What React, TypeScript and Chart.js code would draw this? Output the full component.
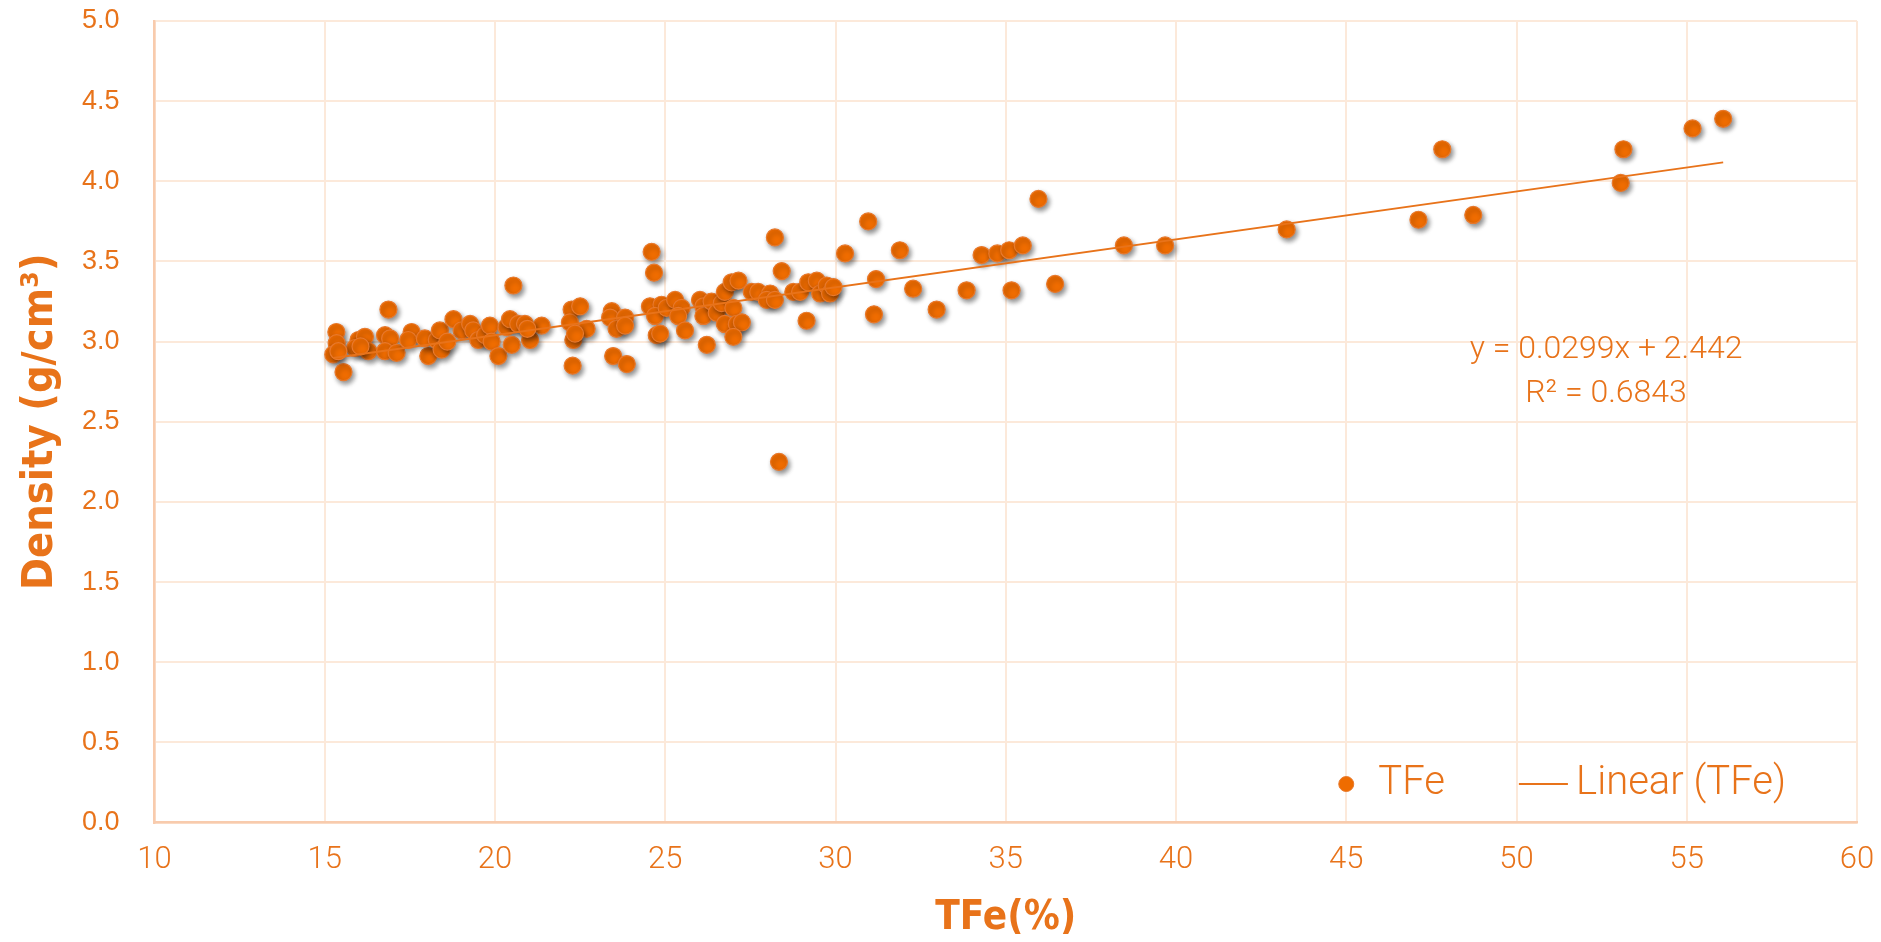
import React, { useEffect, useRef } from 'react';
import { Chart, registerables } from 'chart.js';

Chart.register(...registerables);

// ---- data ----
const seriesName = 'TFe';
const trendName = 'Linear (TFe)';

const tfe: number[] = [
  15.34, 15.35, 15.25, 15.55, 15.99, 16.18, 15.89, 16.28, 16.87, 16.77,
  16.92, 16.77, 17.11, 17.55, 17.45, 18.04, 17.94, 18.29, 18.38, 18.43,
  18.78, 19.02, 19.27, 19.36, 19.51, 19.71, 19.85, 19.90, 20.10, 20.34,
  20.44, 20.54, 20.49, 20.68, 20.88, 21.03, 21.37, 22.25, 22.20, 22.50,
  22.30, 22.28, 22.69, 23.43, 23.38, 23.57, 23.82, 23.82, 23.47, 23.87,
  24.60, 24.67, 24.55, 24.89, 24.70, 24.75, 24.85, 25.04, 25.29, 25.48,
  25.38, 25.58, 26.02, 26.12, 26.12, 26.36, 26.51, 26.66, 26.22, 26.75,
  26.95, 27.15, 27.00, 26.75, 27.10, 27.25, 27.00, 27.54, 27.73, 28.08,
  27.98, 28.22, 28.22, 28.42, 28.76, 28.96, 29.15, 29.20, 29.45, 29.55,
  29.74, 29.84, 29.94, 30.28, 30.96, 31.19, 31.13, 31.89, 32.28, 32.97,
  33.85, 34.29, 34.75, 35.10, 35.50, 35.96, 35.17, 36.45, 38.47, 39.68,
  43.25, 47.82, 47.12, 48.73, 53.14, 53.06, 55.17, 56.07, 28.34,
  15.40, 16.05, 22.35, 20.95, 18.60,
];
const density: number[] = [
  3.06, 2.99, 2.92, 2.81, 3.01, 3.03, 2.96, 2.94, 3.20, 3.04,
  3.02, 2.94, 2.93, 3.06, 3.01, 2.91, 3.02, 3.01, 3.07, 2.95,
  3.14, 3.07, 3.11, 3.07, 3.01, 3.04, 3.10, 3.00, 2.91, 3.09,
  3.14, 3.35, 2.98, 3.11, 3.11, 3.01, 3.10, 3.20, 3.12, 3.22,
  3.01, 2.85, 3.08, 3.19, 3.15, 3.08, 3.15, 3.10, 2.91, 2.86,
  3.56, 3.43, 3.22, 3.23, 3.16, 3.04, 3.05, 3.21, 3.26, 3.21,
  3.16, 3.07, 3.26, 3.22, 3.16, 3.25, 3.18, 3.24, 2.98, 3.31,
  3.37, 3.38, 3.21, 3.11, 3.11, 3.12, 3.03, 3.31, 3.31, 3.30,
  3.26, 3.26, 3.65, 3.44, 3.31, 3.31, 3.13, 3.37, 3.38, 3.30,
  3.35, 3.30, 3.34, 3.55, 3.75, 3.39, 3.17, 3.57, 3.33, 3.20,
  3.32, 3.54, 3.55, 3.57, 3.60, 3.89, 3.32, 3.36, 3.60, 3.60,
  3.70, 4.20, 3.76, 3.79, 4.20, 3.99, 4.33, 4.39, 2.25,
  2.94, 2.97, 3.05, 3.08, 3.00,
];

const trendX: number[] = [15.25, 56.07];
const trendY: number[] = [2.898, 4.118];

const equationLines: string[] = ['y = 0.0299x + 2.442', 'R² = 0.6843'];
const xTitle = 'TFe(%)';
const yTitle = 'Density (g/cm³)';

// ---- style ----
const ORANGE = '#E8731A';
const POINT_FILL = '#EF6C00';
const POINT_BORDER = '#E8792C';
const GRID = '#FCE9DA';
const AXIS = '#F8CBAD';
const LIGHT_FONT = 'Roboto, "Liberation Sans", sans-serif';
const TITLE_FONT = '"DejaVu Sans Condensed", "Liberation Sans", sans-serif';

const W = 1865;
const H = 926;

const shadowPlugin = {
  id: 'pointShadow',
  beforeDatasetDraw(chart: any, args: any) {
    if (args.index !== 1) return;
    const ctx = chart.ctx;
    ctx.save();
    ctx.shadowColor = 'rgba(0,0,0,0.45)';
    ctx.shadowBlur = 5;
    ctx.shadowOffsetX = 2;
    ctx.shadowOffsetY = 3;
  },
  afterDatasetDraw(chart: any, args: any) {
    if (args.index !== 1) return;
    chart.ctx.restore();
  },
};

const annotPlugin = {
  id: 'annot',
  afterDraw(chart: any) {
    const { ctx, scales } = chart;
    const x = scales.x;
    const y = scales.y;
    ctx.save();
    ctx.fillStyle = ORANGE;
    ctx.textBaseline = 'middle';
    ctx.textAlign = 'center';
    ctx.font = '300 32px ' + LIGHT_FONT;
    ctx.fillText(equationLines[0], x.getPixelForValue(52.63), y.getPixelForValue(2.947));
    ctx.fillText(equationLines[1], x.getPixelForValue(52.63), y.getPixelForValue(2.67));

    // legend
    const ly = y.getPixelForValue(0.24);
    ctx.beginPath();
    ctx.arc(x.getPixelForValue(45.0), ly, 7.5, 0, Math.PI * 2);
    ctx.fillStyle = POINT_FILL;
    ctx.fill();
    ctx.lineWidth = 1;
    ctx.strokeStyle = POINT_BORDER;
    ctx.stroke();

    ctx.fillStyle = ORANGE;
    ctx.textAlign = 'left';
    ctx.font = '300 40px ' + LIGHT_FONT;
    ctx.fillText(seriesName, x.getPixelForValue(45.94), ly);

    ctx.beginPath();
    ctx.moveTo(x.getPixelForValue(50.07), ly);
    ctx.lineTo(x.getPixelForValue(51.51), ly);
    ctx.lineWidth = 2;
    ctx.strokeStyle = ORANGE;
    ctx.stroke();
    ctx.fillText(trendName, x.getPixelForValue(51.75), ly);
    ctx.restore();
  },
};

export default function App() {
  const ref = useRef<HTMLCanvasElement | null>(null);

  useEffect(() => {
    if (!ref.current) return;
    const points = tfe.map((v, i) => ({ x: v, y: density[i] }));
    const trend = trendX.map((v, i) => ({ x: v, y: trendY[i] }));
    const chart = new Chart(ref.current, {
      type: 'scatter',
      data: {
        datasets: [
          {
            label: trendName,
            data: trend,
            showLine: true,
            pointRadius: 0,
            borderColor: ORANGE,
            borderWidth: 2,
            fill: false,
          } as any,
          {
            label: seriesName,
            data: points,
            pointRadius: 8.5,
            pointBackgroundColor: POINT_FILL,
            pointBorderColor: POINT_BORDER,
            pointBorderWidth: 1.2,
          },
        ],
      },
      options: {
        responsive: false,
        animation: false,
        layout: { padding: { left: 0, right: 16, top: 13, bottom: 0 } },
        plugins: {
          legend: { display: false },
          tooltip: { enabled: false },
        },
        scales: {
          x: {
            type: 'linear',
            min: 10,
            max: 60,
            afterFit: (s: any) => {
              s.height = 111.5;
              s.paddingLeft = 0;
              s.paddingRight = 0;
            },
            ticks: {
              stepSize: 5,
              color: ORANGE,
              padding: 19,
              font: { family: LIGHT_FONT, size: 31, weight: 300 },
            },
            grid: { color: GRID, lineWidth: 2, drawTicks: false },
            border: { color: AXIS, width: 2.5 },
            title: {
              display: true,
              text: xTitle,
              color: ORANGE,
              font: { family: TITLE_FONT, size: 40, weight: 'bold', lineHeight: 0.7 },
              padding: { top: 0, bottom: 1 },
            },
          },
          y: {
            type: 'linear',
            min: 0,
            max: 5,
            afterFit: (s: any) => {
              s.width = 146.5;
              s.paddingTop = 0;
              s.paddingBottom = 0;
            },
            ticks: {
              stepSize: 0.5,
              color: ORANGE,
              padding: 35,
              callback: (v: any) => Number(v).toFixed(1),
              font: { family: '"Liberation Sans", Arial, sans-serif', size: 27 },
            },
            grid: { color: GRID, lineWidth: 2, drawTicks: false },
            border: { color: AXIS, width: 2.5 },
            title: {
              display: true,
              text: yTitle,
              color: ORANGE,
              font: { family: TITLE_FONT, size: 43, weight: 'bold', lineHeight: 1 },
              padding: { top: 11, bottom: 0 },
            },
          },
        },
      },
      plugins: [shadowPlugin, annotPlugin],
    });
    return () => chart.destroy();
  }, []);

  return (
    <canvas
      ref={ref}
      width={W}
      height={H}
      style={{ display: 'block', width: W + 'px', height: H + 'px' }}
    />
  );
}
